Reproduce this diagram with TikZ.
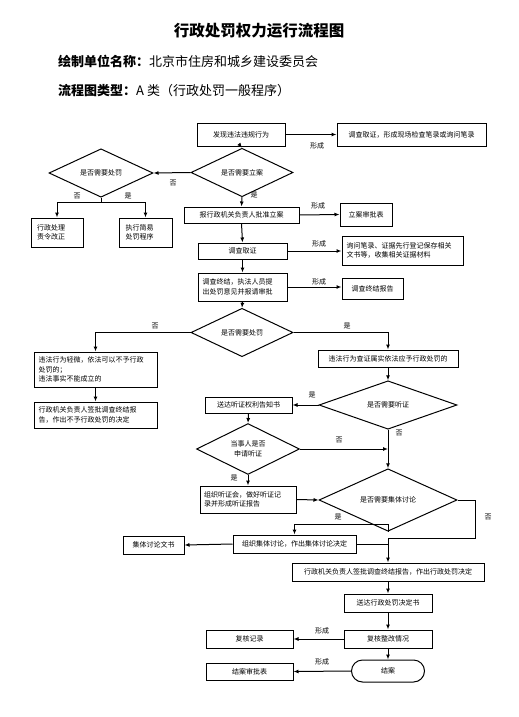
\documentclass[tikz,border=0pt]{standalone}
\usepackage{fontspec}
\newfontfamily\cjk{Noto Sans CJK SC}
\usetikzlibrary{shapes.geometric,shapes.misc,arrows.meta}
\begin{document}
\begin{tikzpicture}[x=1pt,y=-1pt,
  box/.style={draw,line width=1pt,inner sep=1pt,font=\cjk\fontsize{7}{9.5}\selectfont,align=center},
  lbox/.style={box,align=left,text width=#1},
  dia/.style={draw,diamond,line width=1pt,inner sep=0pt,font=\cjk\fontsize{7}{9.5}\selectfont,align=center},
  arr/.style={line width=1pt,-{Latex[length=5pt,width=4pt]}},
  ln/.style={line width=1pt},
  lab/.style={font=\cjk\fontsize{7}{8}\selectfont,inner sep=0pt}]
\useasboundingbox (0,0) rectangle (519,717);
% header
\node[font=\cjk\bfseries\fontsize{15.5}{18}\selectfont] (title) at (259,31) {行政处罚权力运行流程图};
\node[anchor=west,font=\cjk\fontsize{13}{15}\selectfont,inner sep=0pt] (unit) at (58,61) {\textbf{绘制单位名称：}北京市住房和城乡建设委员会};
\node[anchor=west,font=\cjk\fontsize{13}{15}\selectfont,inner sep=0pt] (type) at (58,91) {\textbf{流程图类型：}A 类（行政处罚一般程序）};
% nodes
\node[box,minimum width=88pt,minimum height=23pt] (find) at (241,134.5) {发现违法违规行为};
\node[box,minimum width=149pt,minimum height=23pt] (inv1) at (411.5,134.5) {调查取证，形成现场检查笔录或询问笔录};
\node[dia,minimum width=102pt,minimum height=27pt] (d1) at (242,172.5) {是否需要立案};
\node[dia,minimum width=104pt,minimum height=26pt] (d0) at (101,173) {是否需要处罚};
\node[lbox=40pt,minimum width=52pt,minimum height=29pt] (corr) at (57,232.5) {行政处理\\责令改正};
\node[lbox=40pt,minimum width=53pt,minimum height=29pt] (simple) at (145.5,232.5) {执行简易\\处罚程序};
\node[box,minimum width=115pt,minimum height=16pt] (appr) at (241.5,215) {报行政机关负责人批准立案};
\node[box,minimum width=52pt,minimum height=23pt] (lian) at (366,214.5) {立案审批表};
\node[box,minimum width=89pt,minimum height=16pt] (inv2) at (242.5,251) {调查取证};
\node[lbox=112pt,minimum width=121pt,minimum height=29pt] (rec) at (402.5,250.5) {询问笔录、证据先行登记保存相关\\文书等，收集相关证据材料};
\node[lbox=80pt,minimum width=89pt,minimum height=28pt] (end) at (242.5,287) {调查终结，执法人员提\\出处罚意见并报请审批};
\node[box,minimum width=61pt,minimum height=21pt] (rep) at (372.5,288.5) {调查终结报告};
\node[dia,minimum width=102pt,minimum height=27pt] (d2) at (242,332.5) {是否需要处罚};
\node[lbox=114pt,minimum width=123pt,minimum height=35pt] (minor) at (95.5,369.5) {违法行为轻微，依法可以不予行政\\处罚的；\\违法事实不能成立的};
\node[lbox=114pt,minimum width=123pt,minimum height=26pt] (nopun) at (95.5,415) {行政机关负责人签批调查终结报\\告，作出不予行政处罚的决定};
\node[box,minimum width=140pt,minimum height=17pt] (fact) at (388,358.5) {违法行为查证属实依法应予行政处罚的};
\node[dia,minimum width=138pt,minimum height=26pt] (d3) at (388,405) {是否需要听证};
\node[box,minimum width=87pt,minimum height=16pt] (notice) at (248.5,405) {送达听证权利告知书};
\node[dia,minimum width=103pt,minimum height=44pt] (d4) at (248,449) {当事人是否\\申请听证};
\node[lbox=88pt,minimum width=96pt,minimum height=27pt] (hear) at (248,499.5) {组织听证会，做好听证记\\录并形成听证报告};
\node[dia,minimum width=138pt,minimum height=26pt] (d5) at (388,500) {是否需要集体讨论};
\node[box,minimum width=123pt,minimum height=18pt] (group) at (294.5,544) {组织集体讨论，作出集体讨论决定};
\node[box,minimum width=61pt,minimum height=18pt] (gdoc) at (153.5,545) {集体讨论文书};
\node[box,minimum width=192pt,minimum height=18pt] (decide) at (388,572) {行政机关负责人签批调查终结报告，作出行政处罚决定};
\node[box,minimum width=88pt,minimum height=18pt] (deliver) at (388,603) {送达行政处罚决定书};
\node[box,minimum width=88pt,minimum height=18pt] (review) at (388,639) {复核整改情况};
\node[box,minimum width=87pt,minimum height=18pt] (revrec) at (249.5,639) {复核记录};
\node[box,rounded rectangle,minimum width=75pt,minimum height=22pt] (close) at (388,671) {结案};
\node[box,minimum width=87pt,minimum height=17pt] (closeform) at (249.5,671.5) {结案审批表};
% junctions
\coordinate (j0) at (101,202);
\coordinate (j1) at (388,449);
\coordinate (j2) at (388,524);
\coordinate (j3) at (475,538);
\coordinate (j4) at (388,538);
\coordinate (j5) at (388,544);
% connectors
\draw[arr] (find.east) -- (inv1.west);
\node[lab] (l1) at (317,146) {形成};
\draw[arr] (find.south) -- (d1.north);
\draw[arr] (d1.west) -- (d0.east);
\node[lab] (l2) at (173,183) {否};
\draw[ln] (d0.south) -- (j0);
\draw[arr] (j0) -| (corr.north);
\draw[arr] (j0) -| (simple.north);
\node[lab] (l3) at (77,196) {否};
\node[lab] (l4) at (128,196) {是};
\draw[arr] (d1.south) -- (appr.north);
\node[lab] (l5) at (254,195) {是};
\draw[arr] (appr.east) -- (lian.west);
\node[lab] (l6) at (318,206) {形成};
\draw[arr] (appr.south) -- (inv2.north);
\draw[arr] (inv2.east) -- (rec.west |- inv2.east);
\node[lab] (l7) at (319,244) {形成};
\draw[arr] (inv2.south) -- (end.north);
\draw[arr] (end.east) -- (rep.west |- end.east);
\node[lab] (l8) at (319,282) {形成};
\draw[arr] (end.south) -- (d2.north);
\draw[arr] (d2.west) -| (minor.north);
\node[lab] (l9) at (155,326) {否};
\draw[arr] (d2.east) -| (fact.north);
\node[lab] (l10) at (347,326) {是};
\draw[arr] (minor.south) -- (nopun.north);
\draw[arr] (fact.south) -- (d3.north);
\draw[arr] (d3.west) -- (notice.east);
\node[lab] (l11) at (312,395) {是};
\draw[arr] (notice.south) -- (d4.north);
\draw[arr] (d4.east) -- (j1);
\node[lab] (l12) at (339,440) {否};
\draw[arr] (d3.south) -- (d5.north);
\node[lab] (l13) at (399,433) {否};
\draw[arr] (d4.south) -- (hear.north);
\node[lab] (l14) at (234,478) {是};
\draw[arr] (hear.east) -- (d5.west);
\draw[ln] (d5.south) -- (j2);
\draw[arr] (j2) -| (group.north);
\node[lab] (l15) at (338,517) {是};
\draw[ln] (d5.east) -| (j3) -- (j4);
\draw[arr] (j4) -- (decide.north);
\node[lab] (l16) at (488,517) {否};
\draw[ln] (group.east) -- (j5);
\draw[arr] (group.west) -- (gdoc.east);
\draw[arr] (decide.south) -- (deliver.north);
\draw[arr] (deliver.south) -- (review.north);
\draw[arr] (review.west) -- (revrec.east);
\node[lab] (l17) at (322,631) {形成};
\draw[arr] (review.south) -- (close.north);
\draw[arr] (close.west) -- (closeform.east);
\node[lab] (l18) at (322,662) {形成};
\end{tikzpicture}
\end{document}
